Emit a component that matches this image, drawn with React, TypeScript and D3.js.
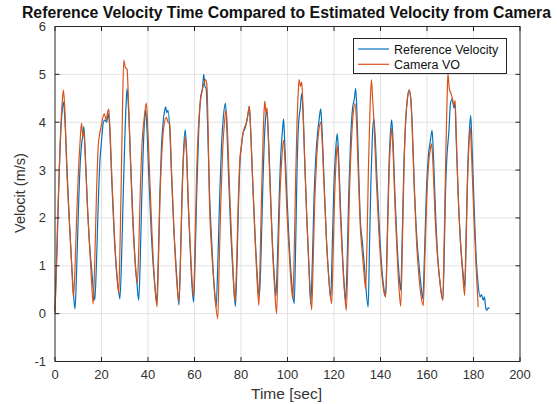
import React, { useEffect, useRef } from "react";
import * as d3 from "d3";

// reference velocity (blue): [time sec, m/s]
const refVelocity: [number, number][] = [
  [0, 0.05], [0.8, 1.2], [1.6, 2.6], [2.5, 3.8], [3.2, 4.3], [3.7, 4.42], [4.2, 4.1], [5.2, 3.0], [6.2, 1.9], [7.2, 1.0], [7.9, 0.45], [8.6, 0.1],
  [9.3, 0.9], [10.1, 2.2], [10.9, 3.2], [11.6, 3.6], [12.1, 3.75], [12.4, 3.91], [12.9, 3.5], [13.8, 2.4], [14.8, 1.5], [15.8, 0.9], [16.5, 0.5], [17.1, 0.28],
  [17.8, 1.0], [18.6, 2.3], [19.3, 3.17], [20.0, 3.6], [20.8, 4.0], [21.5, 4.05], [22.2, 4.0], [22.9, 4.18], [23.5, 3.9], [24.4, 2.8], [25.4, 1.7], [26.4, 0.9], [27.2, 0.55], [27.9, 0.31],
  [28.6, 1.1], [29.3, 2.4], [30.0, 3.6], [30.6, 4.4], [31.0, 4.7], [31.6, 4.3], [32.6, 3.1], [33.6, 1.9], [34.6, 1.0], [35.3, 0.6], [36.0, 0.28],
  [36.6, 1.0], [37.3, 2.4], [38.0, 3.5], [38.6, 4.1], [39.0, 4.25], [39.5, 3.9], [40.4, 2.8], [41.4, 1.7], [42.4, 0.9], [43.2, 0.45], [43.7, 0.24],
  [44.4, 1.1], [45.1, 2.5], [45.8, 3.5], [46.5, 4.0], [47.2, 4.25], [47.6, 4.32], [48.1, 4.2], [48.6, 4.25], [49.3, 3.9], [50.2, 2.8], [51.2, 1.7], [52.2, 0.9], [52.8, 0.45], [53.3, 0.18],
  [53.9, 1.0], [54.6, 2.4], [55.3, 3.4], [56.0, 3.84], [56.5, 3.5], [57.3, 2.3], [58.2, 1.3], [58.9, 0.6], [59.6, 0.24],
  [60.3, 1.2], [61.0, 2.6], [61.8, 3.8], [62.6, 4.5], [63.4, 4.7], [64.0, 5.0], [64.5, 4.75], [65.0, 4.7], [65.6, 4.0], [66.4, 2.6], [67.4, 1.5], [68.4, 0.6], [69.3, 0.14],
  [70.0, 1.0], [70.8, 2.4], [71.6, 3.5], [72.4, 4.1], [73.3, 4.4], [73.8, 4.0], [74.7, 2.8], [75.7, 1.6], [76.7, 0.7], [77.6, 0.15],
  [78.3, 1.1], [79.0, 2.4], [79.6, 3.2], [80.2, 3.5], [81.0, 3.8], [81.6, 3.85], [82.4, 4.0], [83.1, 4.2], [83.6, 4.33], [84.1, 3.9], [85.0, 2.8], [86.0, 1.7], [87.0, 0.8], [87.9, 0.35],
  [88.6, 1.2], [89.3, 2.5], [90.0, 3.6], [90.6, 4.1], [91.1, 4.25], [91.6, 3.9], [92.5, 2.8], [93.4, 1.6], [94.3, 0.8], [95.0, 0.36],
  [95.7, 1.2], [96.4, 2.4], [97.2, 3.4], [97.8, 3.8], [98.3, 4.07], [98.8, 3.6], [99.8, 2.4], [100.8, 1.4], [101.9, 0.6], [102.9, 0.21],
  [103.5, 1.4], [104.1, 3.0], [104.8, 4.0], [105.5, 4.3], [106.1, 4.6], [106.6, 4.3], [107.4, 3.2], [108.3, 2.0], [109.2, 1.0], [110.0, 0.2],
  [110.7, 1.1], [111.4, 2.4], [112.2, 3.3], [113.0, 3.8], [113.7, 4.1], [114.3, 4.28], [114.8, 3.9], [115.7, 2.8], [116.7, 1.6], [117.7, 0.8], [118.6, 0.31],
  [119.2, 1.3], [119.9, 2.6], [120.7, 3.4], [121.4, 3.76], [121.9, 3.4], [122.8, 2.2], [123.7, 1.2], [124.4, 0.6], [125.0, 0.27],
  [125.7, 1.2], [126.4, 2.6], [127.2, 3.7], [128.0, 4.3], [128.8, 4.5], [129.3, 4.7], [129.8, 4.3], [130.6, 3.0], [131.4, 1.9], [132.2, 1.5], [132.9, 1.1], [133.8, 0.5], [134.7, 0.14],
  [135.3, 1.5], [135.9, 2.8], [136.5, 3.7], [137.1, 4.07], [137.6, 3.8], [138.5, 2.8], [139.5, 1.8], [140.5, 1.0], [141.4, 0.55], [142.2, 0.35],
  [142.9, 1.6], [143.6, 3.0], [144.3, 3.8], [144.8, 4.05], [145.3, 3.7], [146.2, 2.5], [147.1, 1.5], [148.0, 0.8], [148.7, 0.49],
  [149.3, 1.5], [150.0, 3.0], [150.8, 4.0], [151.6, 4.5], [152.3, 4.67], [153.0, 4.5], [153.6, 4.0], [154.6, 2.6], [155.6, 1.6], [156.6, 1.0], [157.5, 0.55], [158.2, 0.31],
  [158.9, 1.2], [159.7, 2.5], [160.6, 3.3], [161.4, 3.6], [162.2, 3.83], [162.7, 3.4], [163.6, 2.2], [164.6, 1.2], [165.7, 0.6], [166.8, 0.28],
  [167.4, 1.2], [168.0, 2.6], [168.6, 3.3], [169.4, 3.8], [170.1, 4.4], [170.9, 4.49], [171.6, 4.3], [172.0, 4.4], [172.6, 3.6], [173.4, 2.5], [174.4, 1.5], [175.4, 0.9], [176.2, 0.56],
  [176.8, 1.6], [177.5, 3.0], [178.2, 3.8], [178.8, 4.14], [179.3, 3.6], [180.3, 2.2], [181.3, 1.04], [182.0, 0.6], [182.8, 0.35], [183.4, 0.4],
  [184.2, 0.28], [184.7, 0.35], [185.2, 0.14], [185.7, 0.07], [186.3, 0.12], [186.8, 0.1],
];

// camera visual odometry (orange)
const cameraVO: [number, number][] = [
  [0, 0.0], [0.7, 1.2], [1.4, 2.4], [2.4, 3.8], [3.1, 4.4], [3.6, 4.67], [4.2, 4.3], [5.0, 3.1], [6.4, 1.74], [7.3, 0.9], [7.9, 0.35],
  [8.5, 0.8], [9.3, 2.0], [10.1, 3.0], [10.8, 3.6], [11.4, 3.98], [12.0, 3.7], [12.4, 3.8], [13.0, 3.3], [14.0, 2.2], [15.0, 1.3], [15.8, 0.6], [16.4, 0.2],
  [17.1, 1.1], [17.9, 2.6], [18.6, 3.5], [19.1, 3.72], [19.8, 3.9], [20.6, 4.1], [21.2, 4.18], [22.0, 4.05], [22.6, 4.2], [23.1, 4.28], [23.6, 3.9], [24.5, 2.8], [25.5, 1.7], [26.5, 0.9], [27.4, 0.42],
  [28.0, 1.5], [28.5, 2.8], [29.0, 4.2], [29.6, 5.3], [30.2, 5.15], [31.0, 5.1], [31.5, 4.6], [32.3, 3.4], [33.3, 2.1], [34.3, 1.2], [35.4, 0.63],
  [36.0, 1.3], [36.7, 2.6], [37.5, 3.6], [38.4, 4.1], [39.3, 4.4], [39.8, 4.0], [40.7, 2.9], [41.7, 1.7], [42.8, 0.7], [43.9, 0.14],
  [44.5, 1.1], [45.2, 2.5], [46.0, 3.4], [46.8, 3.9], [47.9, 4.1], [48.6, 4.0], [49.3, 3.97], [50.1, 3.0], [51.1, 1.8], [52.2, 0.8], [53.3, 0.25],
  [53.9, 1.0], [54.6, 2.4], [55.3, 3.3], [56.0, 3.69], [56.6, 3.3], [57.5, 2.1], [58.5, 1.1], [59.6, 0.35],
  [60.2, 1.4], [60.9, 2.9], [61.8, 4.0], [62.7, 4.5], [63.5, 4.7], [64.3, 4.85], [64.8, 4.89], [65.3, 4.8], [65.8, 4.0], [66.4, 2.4], [67.4, 1.3], [68.6, 0.5], [70.0, -0.1],
  [70.6, 1.0], [71.3, 2.3], [72.1, 3.4], [72.9, 4.0], [73.6, 4.25], [74.1, 3.9], [75.0, 2.7], [76.0, 1.5], [76.8, 0.7], [77.4, 0.25],
  [78.1, 1.0], [78.8, 2.3], [79.5, 3.2], [80.1, 3.48], [81.0, 3.8], [81.6, 3.9], [82.4, 4.0], [83.1, 4.2], [83.6, 4.33], [84.1, 3.9], [85.0, 2.8], [86.0, 1.6], [86.9, 0.7], [87.7, 0.17],
  [88.3, 1.3], [88.9, 2.6], [89.5, 3.7], [90.0, 4.3], [90.3, 4.44], [90.7, 4.2], [91.2, 4.3], [91.8, 3.6], [92.7, 2.4], [93.6, 1.3], [94.5, 0.5], [95.3, 0.0],
  [96.0, 1.2], [96.7, 2.4], [97.5, 3.2], [98.3, 3.62], [98.8, 3.3], [99.7, 2.2], [100.7, 1.3], [101.6, 0.6], [102.3, 0.3],
  [102.9, 1.3], [103.5, 2.8], [104.1, 4.0], [104.6, 4.6], [105.0, 4.89], [105.6, 4.75], [106.1, 4.84], [106.6, 4.4], [107.4, 3.2], [108.3, 2.0], [109.3, 0.9], [110.4, 0.08],
  [111.0, 1.0], [111.7, 2.3], [112.5, 3.2], [113.4, 3.8], [114.3, 4.0], [114.8, 3.7], [115.7, 2.7], [116.8, 1.5], [118.0, 0.6], [119.0, 0.21],
  [119.6, 1.2], [120.3, 2.5], [120.9, 3.2], [121.4, 3.52], [121.9, 3.2], [122.8, 2.0], [123.8, 1.0], [124.6, 0.4], [125.3, 0.07],
  [126.0, 1.2], [126.7, 2.6], [127.5, 3.6], [128.3, 4.2], [129.0, 4.39], [129.6, 4.1], [130.4, 3.0], [131.4, 1.74], [132.3, 1.2], [133.0, 0.8], [133.6, 0.52],
  [134.2, 1.5], [134.8, 3.0], [135.5, 4.3], [136.1, 4.89], [136.6, 4.5], [137.2, 4.0], [138.2, 2.8], [139.3, 1.7], [140.4, 0.9], [141.3, 0.5], [142.2, 0.35],
  [142.9, 1.4], [143.6, 2.8], [144.3, 3.6], [144.8, 3.87], [145.3, 3.5], [146.2, 2.3], [147.1, 1.3], [148.0, 0.5], [148.7, 0.15],
  [149.4, 1.4], [150.1, 3.0], [150.8, 4.0], [151.6, 4.5], [152.3, 4.67], [153.0, 4.5], [153.6, 3.9], [154.6, 2.5], [155.5, 1.5], [156.5, 0.8], [157.5, 0.35], [158.4, 0.17],
  [159.1, 1.2], [159.9, 2.4], [160.8, 3.2], [161.5, 3.45], [162.0, 3.55], [162.6, 3.1], [163.5, 2.0], [164.5, 1.2], [165.7, 0.6], [166.8, 0.28],
  [167.3, 1.3], [167.8, 2.6], [168.3, 3.8], [168.7, 4.6], [169.0, 5.01], [169.6, 4.7], [170.3, 4.6], [170.9, 4.5], [171.5, 4.35], [172.1, 4.45], [172.6, 3.7], [173.4, 2.5], [174.4, 1.5], [175.4, 0.8], [176.2, 0.38],
  [176.8, 1.4], [177.4, 2.7], [178.0, 3.5], [178.6, 3.9], [179.1, 3.4], [180.1, 2.1], [181.1, 1.0], [182.0, 0.14],
];

const xTicks = [0, 20, 40, 60, 80, 100, 120, 140, 160, 180, 200];
const yTicks = [-1, 0, 1, 2, 3, 4, 5, 6];
const seriesNames = ["Reference Velocity", "Camera VO"];
const seriesColors = ["#0072BD", "#D95319"];

const W = 557;
const H = 404;
const FONT = "'Liberation Sans', Arial, Helvetica, sans-serif";

export default function App() {
  const ref = useRef<SVGSVGElement>(null);

  useEffect(() => {
    const svg = d3.select(ref.current);
    svg.selectAll("*").remove();

    const left = 55, right = 520, top = 26.5, bottom = 361.5;
    const x = d3.scaleLinear().domain([0, 200]).range([left, right]);
    const y = d3.scaleLinear().domain([-1, 6]).range([bottom, top]);
    const axisColor = "#262626";
    const tickLen = 4.5;

    svg.append("rect").attr("width", W).attr("height", H).attr("fill", "#fff");

    // grid
    const grid = svg.append("g").attr("stroke", "#e2e2e2").attr("stroke-width", 1);
    xTicks.slice(1, -1).forEach((t) => {
      grid.append("line").attr("x1", x(t)).attr("x2", x(t)).attr("y1", top).attr("y2", bottom);
    });
    yTicks.slice(1, -1).forEach((v) => {
      grid.append("line").attr("x1", left).attr("x2", right).attr("y1", y(v)).attr("y2", y(v));
    });

    // series
    const line = d3.line<[number, number]>()
      .x((d) => x(d[0]))
      .y((d) => y(d[1]))
      .curve(d3.curveMonotoneX);
    [refVelocity, cameraVO].forEach((data, i) => {
      svg.append("path")
        .attr("d", line(data))
        .attr("fill", "none")
        .attr("stroke", seriesColors[i])
        .attr("stroke-width", 1.2)
        .attr("stroke-linejoin", "round");
    });

    // box + ticks (inside, all four sides like matlab)
    const ax = svg.append("g").attr("stroke", axisColor).attr("stroke-width", 1).attr("fill", "none");
    ax.append("rect").attr("x", left).attr("y", top).attr("width", right - left).attr("height", bottom - top);
    xTicks.forEach((t) => {
      ax.append("line").attr("x1", x(t)).attr("x2", x(t)).attr("y1", bottom).attr("y2", bottom - tickLen);
      ax.append("line").attr("x1", x(t)).attr("x2", x(t)).attr("y1", top).attr("y2", top + tickLen);
    });
    yTicks.forEach((v) => {
      ax.append("line").attr("x1", left).attr("x2", left + tickLen).attr("y1", y(v)).attr("y2", y(v));
      ax.append("line").attr("x1", right).attr("x2", right - tickLen).attr("y1", y(v)).attr("y2", y(v));
    });

    // tick labels
    const labels = svg.append("g").attr("font-family", FONT).attr("font-size", 13).attr("fill", "#333");
    xTicks.forEach((t) => {
      labels.append("text").attr("x", x(t)).attr("y", 379).attr("text-anchor", "middle").text(t);
    });
    yTicks.forEach((v) => {
      labels.append("text").attr("x", 46).attr("y", y(v) + 4.5).attr("text-anchor", "end").text(v);
    });

    // axis titles
    svg.append("text")
      .attr("x", 286.5).attr("y", 399)
      .attr("text-anchor", "middle")
      .attr("font-family", FONT).attr("font-size", 15.5).attr("fill", "#333")
      .text("Time [sec]");
    svg.append("text")
      .attr("transform", "translate(25,193) rotate(-90)")
      .attr("text-anchor", "middle")
      .attr("font-family", FONT).attr("font-size", 14.5).attr("fill", "#333")
      .text("Velocit (m/s)");
    svg.append("text")
      .attr("x", 286.5).attr("y", 17.5)
      .attr("text-anchor", "middle")
      .attr("font-family", FONT).attr("font-size", 15.8).attr("font-weight", "bold").attr("fill", "#111")
      .text("Reference Velocity Time Compared to Estimated Velocity from Camera");

    // legend
    const lg = svg.append("g");
    lg.append("rect")
      .attr("x", 353.5).attr("y", 38.5).attr("width", 153).attr("height", 35)
      .attr("fill", "#fff").attr("stroke", axisColor).attr("stroke-width", 1);
    seriesNames.forEach((name, i) => {
      const ly = 49 + i * 15.3;
      lg.append("line")
        .attr("x1", 358).attr("x2", 389).attr("y1", ly).attr("y2", ly)
        .attr("stroke", seriesColors[i]).attr("stroke-width", 1.2);
      lg.append("text")
        .attr("x", 394).attr("y", ly + 4.5)
        .attr("font-family", FONT).attr("font-size", 12.5).attr("fill", "#111")
        .text(name);
    });
  }, []);

  return (
    <div style={{ position: "absolute", left: 0, top: 0, width: W, height: H }}>
      <svg ref={ref} width={W} height={H} style={{ display: "block" }} />
    </div>
  );
}
